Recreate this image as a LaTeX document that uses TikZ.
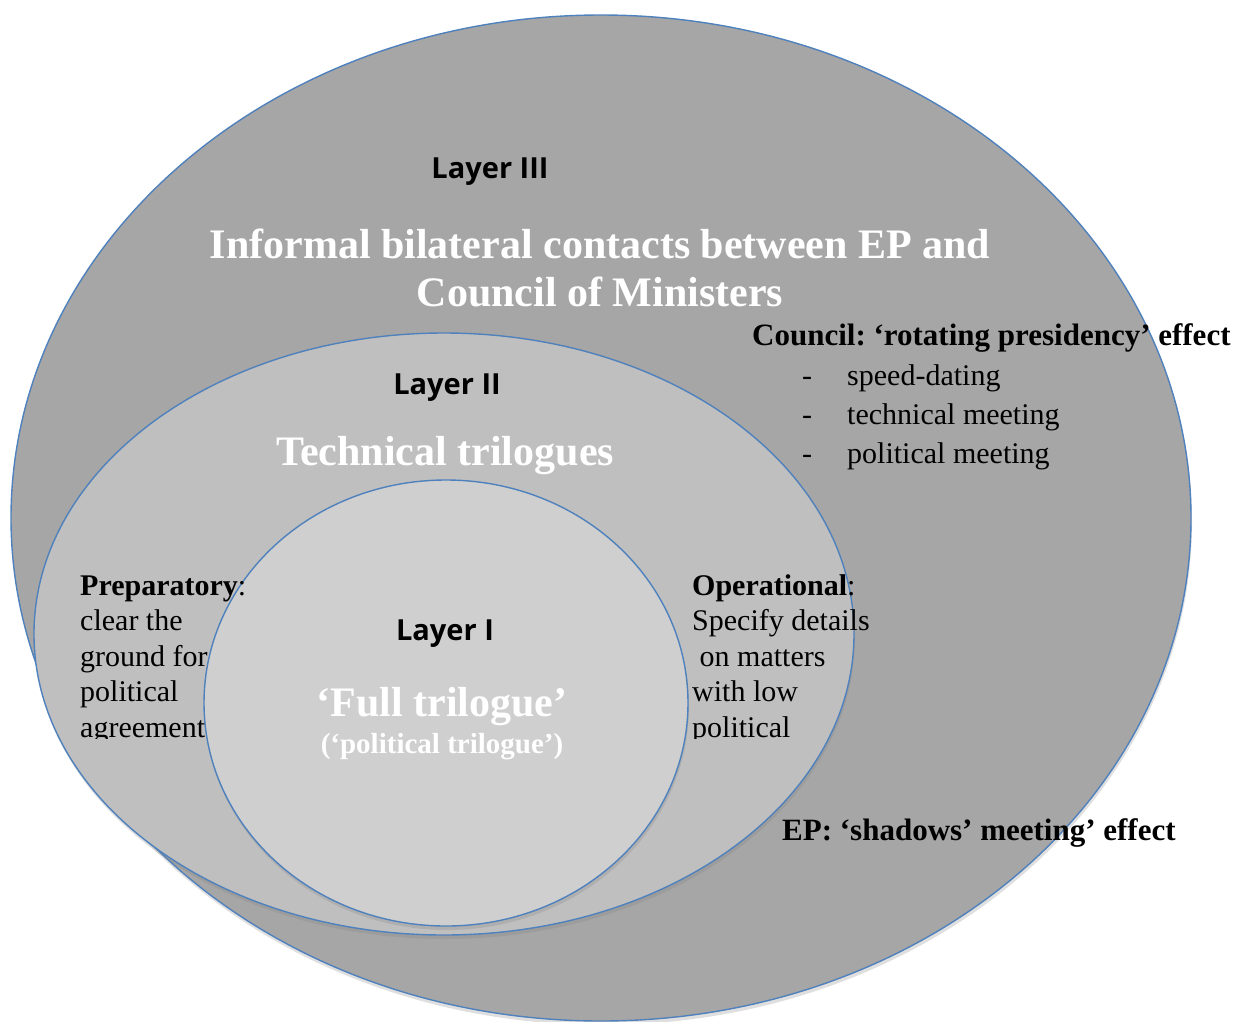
\documentclass[tikz,border=0pt]{standalone}
\usepackage{fontspec}
\setmainfont{Liberation Serif}
\newfontfamily\layerfont{Open Sans}
\usetikzlibrary{shapes.geometric,shadows}
\frenchspacing

\definecolor{ringedge}{RGB}{79,129,189}
\definecolor{layerthree}{RGB}{166,166,166}
\definecolor{layertwo}{RGB}{191,191,191}
\definecolor{layerone}{RGB}{207,207,207}

\begin{document}
\begin{tikzpicture}[x=1pt,y=-1pt,
        every node/.style={inner sep=0pt},
        ring/.style={ellipse,draw=ringedge,line width=1.4pt,
            drop shadow={shadow xshift=1pt,shadow yshift=-4pt,opacity=0.25}},
        layername/.style={anchor=base,font=\layerfont\bfseries\fontsize{29}{34}\selectfont},
        title/.style={anchor=base,text=white,font=\bfseries\fontsize{42}{50}\selectfont},
        note/.style={anchor=base west,font=\fontsize{30}{36}\selectfont},
        effect/.style={anchor=base west,font=\bfseries\fontsize{31}{36}\selectfont}]

    \useasboundingbox (0,0) rectangle (1237,1021);

    % the three layers
    \node[ring,fill=layerthree,minimum width=1180pt,minimum height=1006pt] (layer3) at (601,518) {};
    \node[ring,fill=layertwo,minimum width=820pt,minimum height=602pt] (layer2) at (444,634) {};
    \node[ring,fill=layerone,minimum width=484pt,minimum height=446pt] (layer1) at (446,703) {};

    % layer III
    \node[layername] (name3) at (490,178) {Layer III};
    \node[title] (title3a) at (600,258) {Informal bilateral contacts between EP and};
    \node[title] (title3b) at (600,306) {Council of Ministers};
    \node[effect] (council) at (752,345) {Council: `rotating presidency' effect};
    \foreach \txt [count=\i] in {speed-dating,technical meeting,political meeting} {
        \node[note] (dash\i) at (802,346+39*\i) {-};
        \node[note] (item\i) at (847,346+39*\i) {\txt};
    }
    \node[effect] (ep) at (782,840) {EP: `shadows' meeting' effect};

    % layer II
    \node[layername] (name2) at (447,394) {Layer II};
    \node[title] (title2) at (445,465) {Technical trilogues};
    \begin{scope}
        \clip (0,0) rectangle (1237,738);
        \foreach \txt [count=\i] in {{\textbf{Preparatory}:},clear the,ground for,political,agreement}
            \node[note] (prep\i) at (80,559.5+35.5*\i) {\txt};
        \foreach \txt [count=\i] in {{\textbf{Operational}:},Specify details,{\ on matters},with low,political}
            \node[note] (oper\i) at (692,559.5+35.5*\i) {\txt};
    \end{scope}

    % layer I
    \node[layername] (name1) at (445,640) {Layer I};
    \node[title] (title1) at (442,716) {`Full trilogue'};
    \node[title,font=\bfseries\fontsize{29}{34}\selectfont] (title1b) at (442,753) {(`political trilogue')};
\end{tikzpicture}
\end{document}
